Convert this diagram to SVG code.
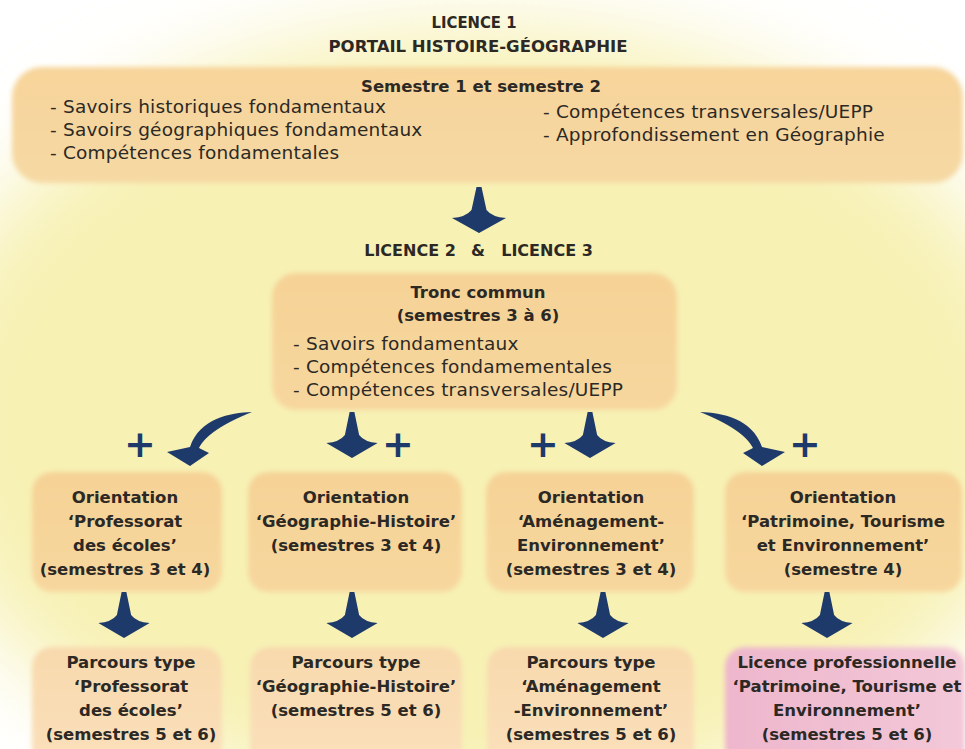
<svg xmlns="http://www.w3.org/2000/svg" width="965" height="749" viewBox="0 0 965 749">
<defs>
<filter id="bgblur" x="-50%" y="-50%" width="200%" height="200%"><feGaussianBlur stdDeviation="45"/></filter>
<filter id="soft" x="-10%" y="-20%" width="120%" height="140%"><feGaussianBlur stdDeviation="2.5"/></filter>
<linearGradient id="gTop" x1="0" y1="0" x2="0" y2="1"><stop offset="0" stop-color="#f7d49a"/><stop offset="1" stop-color="#f6d9a4"/></linearGradient>
<linearGradient id="gOr" x1="0" y1="0" x2="0" y2="1"><stop offset="0" stop-color="#f6d296"/><stop offset="1" stop-color="#f7d79e"/></linearGradient>
<linearGradient id="gPa" x1="0" y1="0" x2="0" y2="1"><stop offset="0" stop-color="#f8d9ad"/><stop offset="1" stop-color="#fae0bb"/></linearGradient>
<linearGradient id="gPink" x1="0" y1="0" x2="1" y2="0"><stop offset="0" stop-color="#eeb6cc"/><stop offset="1" stop-color="#f3c8d8"/></linearGradient>
<path id="arrowDown" d="M -2.5,0 L 2.5,0 L 7.5,23 Q 13,30 27,31 L 0,46 L -27,31 Q -13,30 -7.5,23 Z"/>
<path id="arrowCurve" d="M 252,412 C 230,413 200,418 190,447 L 167,452 L 190,466 L 209,453 L 199,448 C 205,436 222,424 252,412 Z"/>
<style>
.t{font-family:"DejaVu Sans","Liberation Sans",sans-serif;fill:#2c2925}
.b{font-weight:bold;font-size:16.5px;text-anchor:middle}
.h{font-weight:bold;font-size:15.5px;text-anchor:middle}
.l{font-size:18.5px;letter-spacing:0.2px}
.plus{font-family:"DejaVu Sans",sans-serif;font-weight:bold;font-size:38px;fill:#1e3a6b;text-anchor:middle}
.arr{fill:#1e3a6b}
</style>
</defs>
<rect width="965" height="749" fill="#ffffff"/>
<ellipse cx="480" cy="420" rx="570" ry="395" fill="#f7f1b4" filter="url(#bgblur)"/>

<text class="t h" x="474" y="28" textLength="85" lengthAdjust="spacingAndGlyphs">LICENCE 1</text>
<text class="t h" x="478" y="52" textLength="299" lengthAdjust="spacingAndGlyphs">PORTAIL HISTOIRE-GÉOGRAPHIE</text>

<g id="semestre12">
<rect x="12" y="67" width="951" height="116" rx="30" fill="url(#gTop)" filter="url(#soft)"/>
<text class="t b" x="481" y="92">Semestre 1 et semestre 2</text>
<text class="t l" x="50" y="113">- Savoirs historiques fondamentaux</text>
<text class="t l" x="50" y="136">- Savoirs géographiques fondamentaux</text>
<text class="t l" x="50" y="159">- Compétences fondamentales</text>
<text class="t l" x="543" y="118">- Compétences transversales/UEPP</text>
<text class="t l" x="543" y="141">- Approfondissement en Géographie</text>
</g>

<text class="t h" y="256" style="font-size:16px"><tspan x="410">LICENCE 2</tspan><tspan x="478">&amp;</tspan><tspan x="547">LICENCE 3</tspan></text>

<g id="tronc">
<rect x="272" y="273" width="405" height="137" rx="24" fill="url(#gOr)" filter="url(#soft)"/>
<text class="t b" x="478" y="298">Tronc commun</text>
<text class="t b" x="478" y="321">(semestres 3 à 6)</text>
<text class="t l" x="293" y="350">- Savoirs fondamentaux</text>
<text class="t l" x="293" y="373">- Compétences fondamementales</text>
<text class="t l" x="293" y="396">- Compétences transversales/UEPP</text>
</g>

<g id="orientPE">
<rect x="32" y="472" width="190" height="120" rx="20" fill="url(#gOr)" filter="url(#soft)"/>
<text class="t b" x="125" y="503">Orientation</text>
<text class="t b" x="125" y="527">‘Professorat</text>
<text class="t b" x="125" y="551">des écoles’</text>
<text class="t b" x="125" y="575">(semestres 3 et 4)</text>
</g>
<g id="orientGH">
<rect x="248" y="472" width="214" height="120" rx="20" fill="url(#gOr)" filter="url(#soft)"/>
<text class="t b" x="356" y="503">Orientation</text>
<text class="t b" x="356" y="527">‘Géographie-Histoire’</text>
<text class="t b" x="356" y="551">(semestres 3 et 4)</text>
</g>
<g id="orientAE">
<rect x="486" y="472" width="208" height="120" rx="20" fill="url(#gOr)" filter="url(#soft)"/>
<text class="t b" x="591" y="503">Orientation</text>
<text class="t b" x="591" y="527">‘Aménagement-</text>
<text class="t b" x="591" y="551">Environnement’</text>
<text class="t b" x="591" y="575">(semestres 3 et 4)</text>
</g>
<g id="orientPTE">
<rect x="725" y="472" width="237" height="120" rx="20" fill="url(#gOr)" filter="url(#soft)"/>
<text class="t b" x="843" y="503">Orientation</text>
<text class="t b" x="843" y="527">‘Patrimoine, Tourisme</text>
<text class="t b" x="843" y="551">et Environnement’</text>
<text class="t b" x="843" y="575">(semestre 4)</text>
</g>

<g id="parcoursPE">
<rect x="32" y="647" width="190" height="120" rx="20" fill="url(#gPa)" filter="url(#soft)"/>
<text class="t b" x="131" y="668">Parcours type</text>
<text class="t b" x="131" y="692">‘Professorat</text>
<text class="t b" x="131" y="716">des écoles’</text>
<text class="t b" x="131" y="740">(semestres 5 et 6)</text>
</g>
<g id="parcoursGH">
<rect x="250" y="647" width="212" height="120" rx="20" fill="url(#gPa)" filter="url(#soft)"/>
<text class="t b" x="356" y="668">Parcours type</text>
<text class="t b" x="356" y="692">‘Géographie-Histoire’</text>
<text class="t b" x="356" y="716">(semestres 5 et 6)</text>
</g>
<g id="parcoursAE">
<rect x="487" y="647" width="207" height="120" rx="20" fill="url(#gPa)" filter="url(#soft)"/>
<text class="t b" x="591" y="668">Parcours type</text>
<text class="t b" x="591" y="692">‘Aménagement</text>
<text class="t b" x="591" y="716">-Environnement’</text>
<text class="t b" x="591" y="740">(semestres 5 et 6)</text>
</g>
<g id="licencePro">
<rect x="725" y="647" width="240" height="120" rx="20" fill="url(#gPink)" filter="url(#soft)"/>
<text class="t b" x="847" y="668">Licence professionnelle</text>
<text class="t b" x="847" y="692">‘Patrimoine, Tourisme et</text>
<text class="t b" x="847" y="716">Environnement’</text>
<text class="t b" x="847" y="740">(semestres 5 et 6)</text>
</g>

<g id="connectors" class="arr">
<use href="#arrowDown" transform="translate(479,187)"/>
<use href="#arrowCurve"/>
<use href="#arrowCurve" transform="translate(952,0) scale(-1,1)"/>
<use href="#arrowDown" transform="translate(352,412) scale(0.95,1)"/>
<use href="#arrowDown" transform="translate(590,412) scale(0.95,1)"/>
<use href="#arrowDown" transform="translate(124,592) scale(0.95,1)"/>
<use href="#arrowDown" transform="translate(352,592) scale(0.95,1)"/>
<use href="#arrowDown" transform="translate(603,592) scale(0.95,1)"/>
<use href="#arrowDown" transform="translate(827,592) scale(0.95,1)"/>
</g>

<text class="plus" x="140" y="457">+</text>
<text class="plus" x="398" y="457">+</text>
<text class="plus" x="543" y="457">+</text>
<text class="plus" x="805" y="457">+</text>
</svg>
